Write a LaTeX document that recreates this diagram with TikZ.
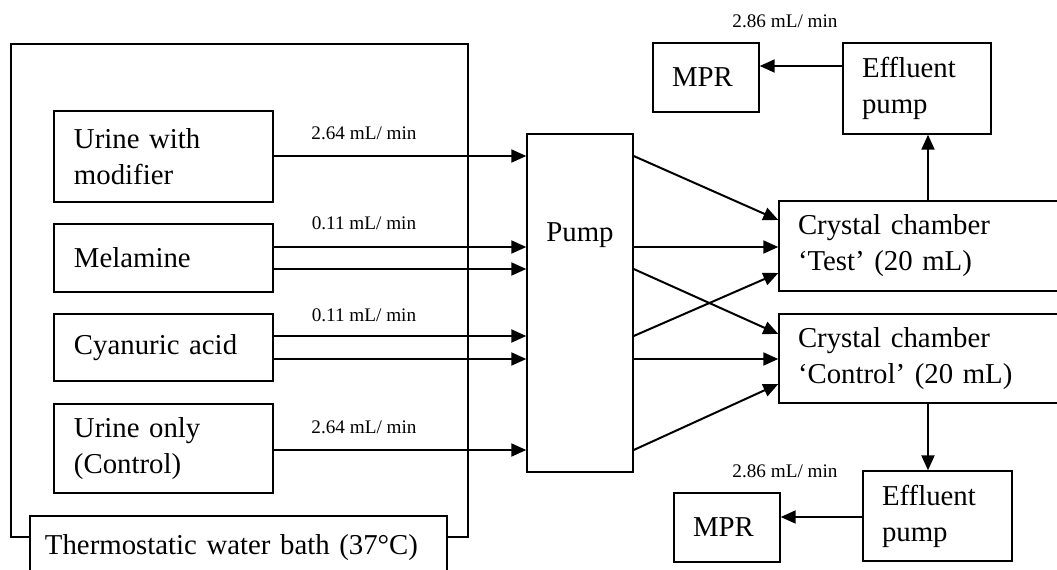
\documentclass[tikz,border=0pt]{standalone}
\usepackage{fontspec}
\setmainfont{Liberation Serif}
\usetikzlibrary{arrows.meta}
\begin{document}
\begin{tikzpicture}[x=0.5pt,y=-0.5pt,
  box/.style={draw, line width=0.7pt, inner sep=0pt, align=left, font=\fontsize{14.4}{18}\selectfont},
  arr/.style={line width=1pt, -{Triangle[length=7.5pt,width=6.5pt]}},
  frame/.style={line width=0.7pt},
  rate/.style={font=\fontsize{9.6}{11}\selectfont, inner sep=0pt}]
\useasboundingbox (0,0) rectangle (1057,569);
\clip (0,0) rectangle (1057,569);
% left boxes
\node[box, minimum width=109.5pt, minimum height=45.5pt, text width=89.5pt] (uwm) at (163.5,156.5) {Urine with\\modifier};
\node[box, minimum width=109.5pt, minimum height=34pt, text width=89.5pt] (mel) at (163.5,258) {Melamine};
\node[box, minimum width=109.5pt, minimum height=33.5pt, text width=89.5pt] (cya) at (163.5,347.5) {Cyanuric acid};
\node[box, minimum width=109.5pt, minimum height=44.5pt, text width=89.5pt] (uon) at (163.5,448.5) {Urine only\\(Control)};
% bath
\node[box, minimum width=208.5pt, minimum height=32pt, text width=193.5pt] (bath) at (238.5,548) {Thermostatic water bath (37°C)};
\coordinate (fb) at (0,537);
\draw[frame] (bath.west |- fb) -- (11,537) -- (11,44) -- (468,44) -- (468,537) -- (bath.east |- fb);
% pump
\node[draw, line width=0.7pt, inner sep=0pt, minimum width=53pt, text height=53.5pt, text depth=115.5pt, font=\fontsize{14.4}{18}\selectfont] (pump) at (580,303) {Pump};
% right boxes
\node[box, minimum width=145.5pt, minimum height=45pt, text width=126.5pt] (test) at (924.5,246) {Crystal chamber\\‘Test’ (20 mL)};
\node[box, minimum width=145.5pt, minimum height=44.5pt, text width=126.5pt] (ctrl) at (924.5,358.5) {Crystal chamber\\‘Control’ (20 mL)};
\node[box, minimum width=53pt, minimum height=34.5pt, text width=34pt] (mprT) at (706,77.5) {MPR};
\node[box, minimum width=74pt, minimum height=45.5pt, text width=55pt] (effT) at (917,88.5) {Effluent\\pump};
\node[box, minimum width=74.5pt, minimum height=45pt, text width=55.5pt] (effB) at (937.5,516) {Effluent\\pump};
\node[box, minimum width=53pt, minimum height=34.5pt, text width=34pt] (mprB) at (727,527.5) {MPR};
% rows
\coordinate (r1) at (0,156);
\coordinate (r2) at (0,247);
\coordinate (r3) at (0,269);
\coordinate (r4) at (0,336);
\coordinate (r5) at (0,359);
\coordinate (r6) at (0,450);
\coordinate (t1) at (0,220);
\coordinate (t3) at (0,273);
\coordinate (c1) at (0,334);
\coordinate (c3) at (0,384);
\draw[arr] (uwm.east |- r1) -- (pump.west |- r1);
\draw[arr] (mel.east |- r2) -- (pump.west |- r2);
\draw[arr] (mel.east |- r3) -- (pump.west |- r3);
\draw[arr] (cya.east |- r4) -- (pump.west |- r4);
\draw[arr] (cya.east |- r5) -- (pump.west |- r5);
\draw[arr] (uon.east |- r6) -- (pump.west |- r6);
\draw[arr] (pump.east |- r1) -- (test.west |- t1);
\draw[arr] (pump.east |- r2) -- (test.west |- r2);
\draw[arr] (pump.east |- r3) -- (ctrl.west |- c1);
\draw[arr] (pump.east |- r4) -- (test.west |- t3);
\draw[arr] (pump.east |- r5) -- (ctrl.west |- r5);
\draw[arr] (pump.east |- r6) -- (ctrl.west |- c3);
% effluent
\coordinate (ax) at (928,0);
\coordinate (eyT) at (0,66);
\coordinate (eyB) at (0,517);
\draw[arr] (test.north -| ax) -- (effT.south -| ax);
\draw[arr] (ctrl.south -| ax) -- (effB.north -| ax);
\draw[arr] (effT.west |- eyT) -- (mprT.east |- eyT);
\draw[arr] (effB.west |- eyB) -- (mprB.east |- eyB);
% rates
\node[rate] (l1) at (364,133) {2.64 mL/ min};
\node[rate] (l2) at (364,223) {0.11 mL/ min};
\node[rate] (l3) at (364,315) {0.11 mL/ min};
\node[rate] (l4) at (364,427) {2.64 mL/ min};
\node[rate] (l5) at (785,21) {2.86 mL/ min};
\node[rate] (l6) at (785,471) {2.86 mL/ min};
\end{tikzpicture}
\end{document}
